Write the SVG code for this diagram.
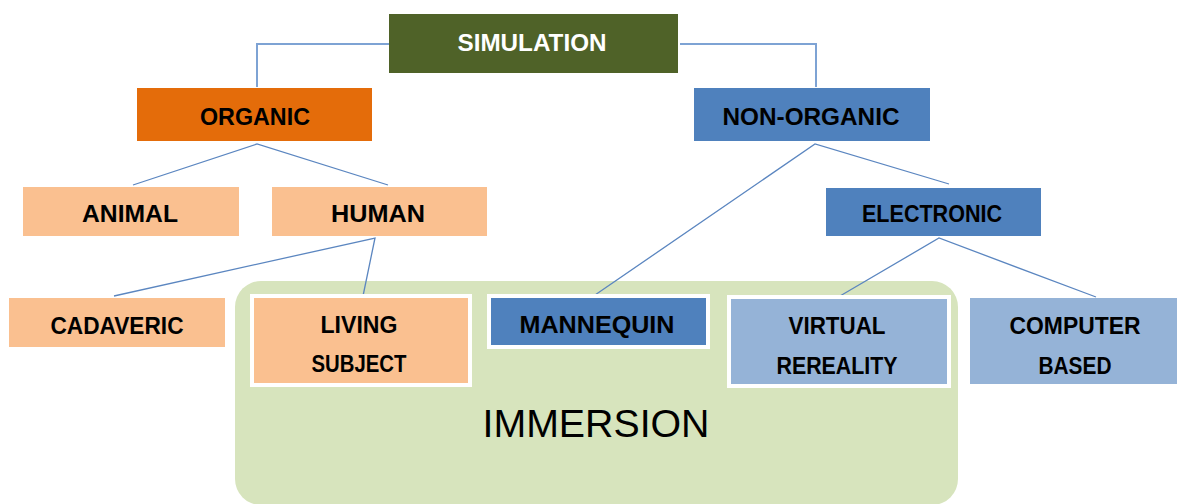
<svg xmlns="http://www.w3.org/2000/svg" width="1178" height="504" viewBox="0 0 1178 504">
<style>
.lbl{font-family:"Liberation Sans",Arial,sans-serif;font-weight:bold;font-size:23px;fill:#000;text-anchor:middle}
.wht{fill:#fff}
.elbow{fill:none;stroke:#7EA3D4;stroke-width:2}
.diag{fill:none;stroke:#5B86C0;stroke-width:1.3}
.peach{fill:#FAC090}
.blue{fill:#4F81BD}
.lblue{fill:#95B3D7}
.framed{stroke:#fff;stroke-width:4}
</style>
<rect width="1178" height="504" fill="#fff"/>
<g id="immersion">
<rect x="235" y="281" width="723" height="224" rx="26" ry="26" fill="#D7E4BD"/>
<text x="596" y="437" font-family="'Liberation Sans',Arial,sans-serif" font-size="39" text-anchor="middle" textLength="227" lengthAdjust="spacingAndGlyphs" fill="#000">IMMERSION</text>
</g>
<g id="connectors">
<polyline class="elbow" points="389,44 257,44 257,87"/>
<polyline class="elbow" points="680,44 816,44 816,87"/>
<polyline class="diag" points="133,185 257,144 388,185"/>
<polyline class="diag" points="114,296 375,238 363,296"/>
<polyline class="diag" points="595,295 815,144 949,184"/>
<polyline class="diag" points="840,296 939,238 1096,297"/>
</g>
<g id="simulation">
<rect x="389" y="14" width="289" height="59" fill="#4F6228"/>
<text class="lbl wht" x="532" y="51" textLength="149" lengthAdjust="spacingAndGlyphs">SIMULATION</text>
</g>
<g id="organic">
<rect x="137" y="88" width="235" height="53" fill="#E46C0A"/>
<text class="lbl" x="255" y="125" textLength="110" lengthAdjust="spacingAndGlyphs">ORGANIC</text>
</g>
<g id="non-organic">
<rect x="694" y="88" width="236" height="53" class="blue"/>
<text class="lbl" x="811" y="125" textLength="177" lengthAdjust="spacingAndGlyphs">NON-ORGANIC</text>
</g>
<g id="animal">
<rect x="23" y="187" width="216" height="49" class="peach"/>
<text class="lbl" x="130" y="222" textLength="96" lengthAdjust="spacingAndGlyphs">ANIMAL</text>
</g>
<g id="human">
<rect x="272" y="187" width="215" height="49" class="peach"/>
<text class="lbl" x="378" y="222" textLength="94" lengthAdjust="spacingAndGlyphs">HUMAN</text>
</g>
<g id="electronic">
<rect x="826" y="188" width="215" height="48" class="blue"/>
<text class="lbl" x="932" y="222" textLength="140" lengthAdjust="spacingAndGlyphs">ELECTRONIC</text>
</g>
<g id="cadaveric">
<rect x="9" y="298" width="216" height="49" class="peach"/>
<text class="lbl" x="117" y="334" textLength="133" lengthAdjust="spacingAndGlyphs">CADAVERIC</text>
</g>
<g id="living-subject">
<rect x="252" y="296" width="218" height="89" class="peach framed"/>
<text class="lbl" x="359" y="333" textLength="77" lengthAdjust="spacingAndGlyphs">LIVING</text>
<text class="lbl" x="359" y="372" textLength="95" lengthAdjust="spacingAndGlyphs">SUBJECT</text>
</g>
<g id="mannequin">
<rect x="489" y="296" width="219" height="51" class="blue framed"/>
<text class="lbl" x="597" y="333" textLength="155" lengthAdjust="spacingAndGlyphs">MANNEQUIN</text>
</g>
<g id="virtual-rereality">
<rect x="729" y="297" width="220" height="89" class="lblue framed"/>
<text class="lbl" x="837" y="334" textLength="97" lengthAdjust="spacingAndGlyphs">VIRTUAL</text>
<text class="lbl" x="837" y="374" textLength="121" lengthAdjust="spacingAndGlyphs">REREALITY</text>
</g>
<g id="computer-based">
<rect x="970" y="298" width="207" height="86" class="lblue"/>
<text class="lbl" x="1075" y="334" textLength="131" lengthAdjust="spacingAndGlyphs">COMPUTER</text>
<text class="lbl" x="1075" y="374" textLength="73" lengthAdjust="spacingAndGlyphs">BASED</text>
</g>
</svg>
